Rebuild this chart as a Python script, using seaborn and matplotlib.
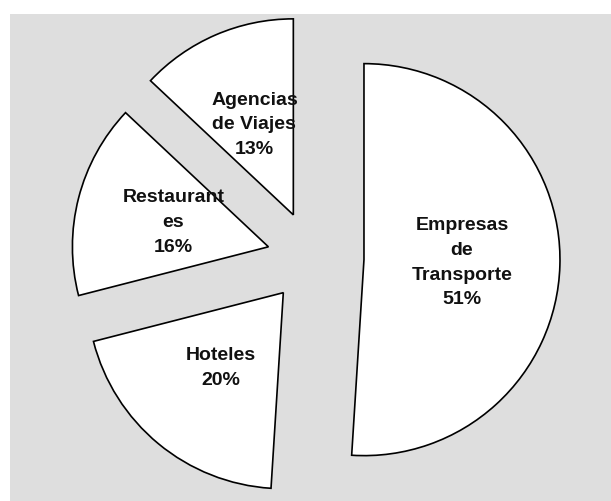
import matplotlib
matplotlib.use("Agg")
import matplotlib.pyplot as plt
from matplotlib.patches import Rectangle
import seaborn as sns

# Data
categories = ["Empresas\nde\nTransporte", "Hoteles", "Restaurant\nes", "Agencias\nde Viajes"]
values = [51, 20, 16, 13]

sns.set_theme(style="white")
plt.rcParams['font.family'] = ['Liberation Sans', 'DejaVu Sans']

W, H = 611, 501
fig = plt.figure(figsize=(W / 100, H / 100), dpi=100, facecolor="white")
ax = fig.add_axes([0, 0, 1, 1])

# grey panel
ax.add_patch(Rectangle((10, 0), W - 10, H - 14, facecolor="#dedede",
                       edgecolor="none", zorder=0))

labels = [f"{c}\n{v}%" for c, v in zip(categories, values)]
explode = [52, 45, 45, 47]   # offsets in data (pixel) units

wedges, texts = ax.pie(
    values,
    labels=labels,
    explode=explode,
    startangle=90,
    counterclock=False,
    center=(312, 243),
    radius=196,
    labeldistance=0.5,
    colors=["white"] * len(values),
    wedgeprops=dict(edgecolor="black", linewidth=1.2),
    textprops=dict(ha="center", va="center", fontsize=14,
                   fontweight="bold", color="#111111", linespacing=1.6),
    frame=True,
)
ax.set_xlim(0, W)
ax.set_ylim(0, H)
ax.set_aspect("equal")
ax.axis("off")

fig.savefig("out.png", dpi=100, facecolor="white")
